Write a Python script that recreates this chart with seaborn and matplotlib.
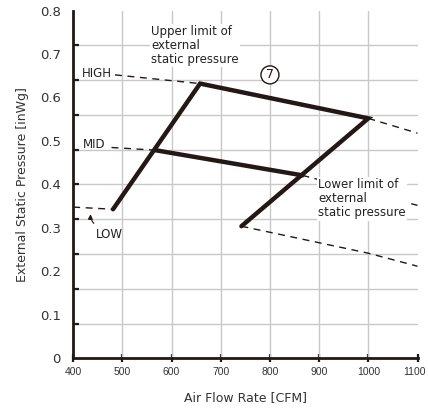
import numpy as np
import matplotlib
matplotlib.use("Agg")
import matplotlib.pyplot as plt
import matplotlib.transforms as mtransforms
import seaborn as sns

# Operating envelope (solid, heavy outline)
envelope_cfm = [481, 658, 1000, 742, 481]
envelope_esp = [0.343, 0.632, 0.552, 0.304, 0.343]

# MID fan step (solid part inside the envelope)
mid_cfm = [566, 866]
mid_esp = [0.479, 0.421]

# Dashed fan curves outside the envelope
high_left_cfm = [485, 658]
high_left_esp = [0.652, 0.632]
high_right_cfm = [1000, 1100]
high_right_esp = [0.552, 0.518]

mid_left_cfm = [478, 566]
mid_left_esp = [0.485, 0.479]
mid_right_cfm = [866, 1100]
mid_right_esp = [0.421, 0.352]

low_left_cfm = [400, 481]
low_left_esp = [0.348, 0.343]
low_right_cfm = [742, 1000, 1100]
low_right_esp = [0.304, 0.242, 0.212]

x_ticks = [400, 500, 600, 700, 800, 900, 1000, 1100]
y_ticks = [0, 0.1, 0.2, 0.3, 0.4, 0.5, 0.6, 0.7, 0.8]
y_tick_labels = ["0", "0.1", "0.2", "0.3", "0.4", "0.5", "0.6", "0.7", "0.8"]

ink = "#231815"

sns.set_style("white")
plt.rcParams["font.family"] = ["DejaVu Sans"]

fig = plt.figure(figsize=(4.28, 4.12), dpi=100)
ax = fig.add_axes([0.171, 0.130, 0.8045, 0.8445])

# dashed curves
dash = dict(color=ink, lw=1.0, dashes=(5, 4), ax=ax, legend=False)
for xs, ys in [(high_left_cfm, high_left_esp), (high_right_cfm, high_right_esp),
               (mid_left_cfm, mid_left_esp), (mid_right_cfm, mid_right_esp),
               (low_left_cfm, low_left_esp), (low_right_cfm, low_right_esp)]:
    sns.lineplot(x=xs, y=ys, sort=False, zorder=3, **dash)

# heavy envelope
sns.lineplot(x=envelope_cfm, y=envelope_esp, sort=False, color=ink, lw=3.2,
             ax=ax, zorder=5, legend=False)
ax.lines[-1].set_solid_joinstyle("miter")
sns.lineplot(x=mid_cfm, y=mid_esp, sort=False, color=ink, lw=3.2,
             ax=ax, zorder=5, legend=False)

ax.set_xlim(400, 1100)
ax.set_ylim(0, 0.8)

# labelled ticks
ax.set_xticks(x_ticks)
ax.set_xticklabels([str(v) for v in x_ticks])
ax.set_yticks(y_ticks)
ax.set_yticklabels(y_tick_labels)

# grid lines sit on minor ticks
ax.xaxis.remove_overlapping_locs = False
ax.yaxis.remove_overlapping_locs = False
ax.set_xticks(x_ticks[1:-1], minor=True)
ax.set_yticks(np.arange(1, 10) * 0.08, minor=True)
ax.grid(False)
ax.grid(which="minor", color="#c8c8c8", lw=1.0)
ax.set_axisbelow(True)

ax.tick_params(axis="x", which="major", direction="inout", length=6, width=1.6,
               color=ink, labelsize=7.5, labelcolor="#333333", pad=3)
ax.tick_params(axis="x", which="minor", length=0)
ax.tick_params(axis="y", which="major", length=0, labelsize=9.5,
               labelcolor="#333333", pad=9)
ax.tick_params(axis="y", which="minor", direction="in", length=4, width=1.6,
               color=ink)
ax.tick_params(left=True, bottom=True, which="both")
xlabels = ax.get_xticklabels()
for lab in xlabels:
    lab.set_family("Liberation Sans")
# keep the last label inside the canvas
shift = mtransforms.ScaledTranslation(-3 / 100, 0, fig.dpi_scale_trans)
xlabels[-1].set_transform(xlabels[-1].get_transform() + shift)

for side in ["top", "right"]:
    ax.spines[side].set_visible(False)
for side in ["left", "bottom"]:
    ax.spines[side].set_color(ink)
    ax.spines[side].set_linewidth(2.0)

ax.set_xlabel("Air Flow Rate [CFM]", fontsize=9, color="#333333", labelpad=10)
ax.set_ylabel("External Static Pressure [inWg]", fontsize=9, color="#333333",
              labelpad=8)

# annotations
txt = dict(fontsize=8.5, color="#222222")
ax.text(417, 0.656, "HIGH", ha="left", va="center", **txt)
ax.text(419, 0.493, "MID", ha="left", va="center", **txt)
ax.text(473, 0.284, "LOW", ha="center", va="center", **txt)
ax.annotate("", xy=(436, 0.338), xytext=(446, 0.306),
            arrowprops=dict(arrowstyle="-|>", color=ink, lw=0.8,
                            mutation_scale=7,
                            connectionstyle="arc3,rad=-0.3"))

box = dict(boxstyle="square,pad=0.1", fc="white", ec="none")
ax.text(558, 0.766, "Upper limit of\nexternal\nstatic pressure", ha="left",
        va="top", linespacing=1.1, bbox=box, zorder=6, **txt)
ax.text(898, 0.414, "Lower limit of\nexternal\nstatic pressure", ha="left",
        va="top", linespacing=1.1, bbox=box, zorder=6, **txt)

ax.text(800, 0.652, "7", ha="center", va="center", fontsize=9, color=ink,
        bbox=dict(boxstyle="circle,pad=0.2", fc="white", ec=ink, lw=1.0),
        zorder=6)

fig.savefig("out.png", dpi=100)
